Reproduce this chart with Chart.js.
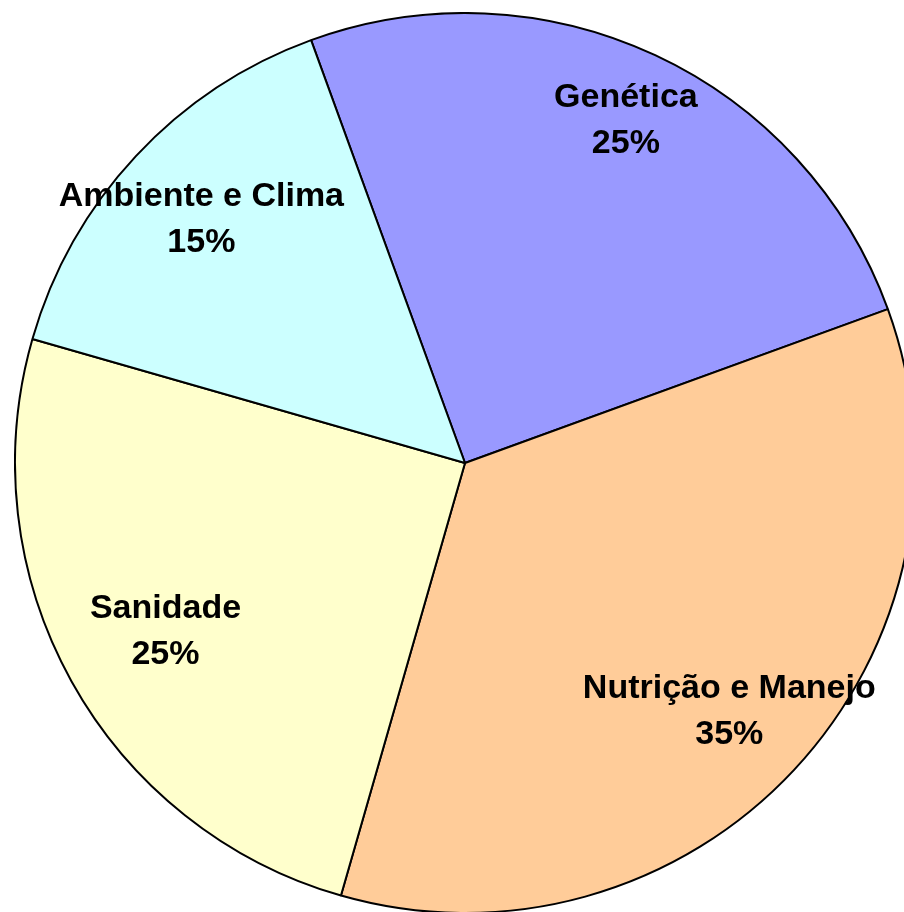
<!DOCTYPE html>
<html>
<head>
<meta charset="utf-8">
<script src="https://cdn.jsdelivr.net/npm/chart.js@4/dist/chart.umd.min.js"></script>
<style>
  html, body { margin: 0; padding: 0; background: #ffffff; width: 904px; height: 912px; overflow: hidden; }
  #wrap { position: absolute; left: 14px; top: 12px; width: 902px; height: 902px; }
</style>
</head>
<body>
<div id="wrap"><canvas id="c" width="902" height="902"></canvas></div>
<script>
const categories = ["Genética", "Nutrição e Manejo", "Sanidade", "Ambiente e Clima"];
const percentValues = [25, 35, 25, 15];
const sliceColors = ["#9999FF", "#FFCC99", "#FFFFCC", "#CCFFFF"];
const labelRadiusFraction = [0.846, 0.803, 0.761, 0.801];

const labelPlugin = {
  id: 'sliceLabels',
  afterDatasetsDraw(chart) {
    const ctx = chart.ctx;
    const meta = chart.getDatasetMeta(0);
    ctx.save();
    ctx.font = 'bold 34px "Liberation Sans", Arial, sans-serif';
    ctx.fillStyle = '#000000';
    ctx.textAlign = 'center';
    ctx.textBaseline = 'alphabetic';
    meta.data.forEach((arc, i) => {
      const p = arc.getProps(['x', 'y', 'startAngle', 'endAngle', 'outerRadius'], true);
      const mid = (p.startAngle + p.endAngle) / 2;
      const r = p.outerRadius * labelRadiusFraction[i];
      const cx = p.x + Math.cos(mid) * r;
      const cy = p.y + Math.sin(mid) * r;
      ctx.fillText(categories[i], cx, cy - 11);
      ctx.fillText(percentValues[i] + '%', cx, cy + 35);
    });
    ctx.restore();
  }
};

new Chart(document.getElementById('c'), {
  type: 'pie',
  data: {
    labels: categories,
    datasets: [{
      data: percentValues,
      backgroundColor: sliceColors,
      borderColor: '#000000',
      borderWidth: 2
    }]
  },
  options: {
    responsive: false,
    animation: false,
    rotation: -20,
    layout: { padding: 0 },
    plugins: {
      legend: { display: false },
      tooltip: { enabled: false }
    }
  },
  plugins: [labelPlugin]
});
</script>
</body>
</html>
